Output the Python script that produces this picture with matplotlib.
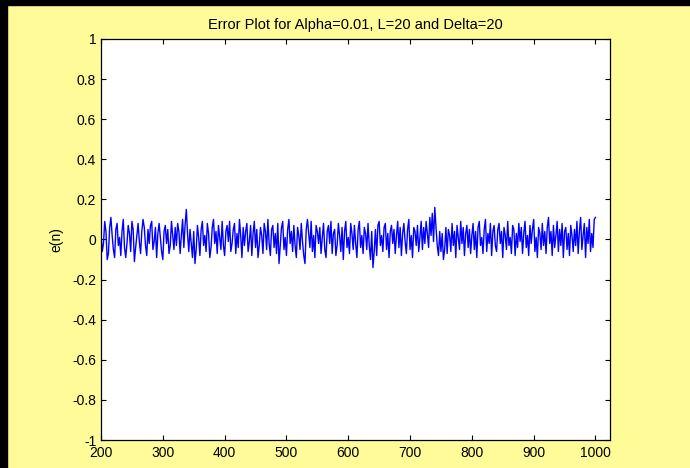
import numpy as np
import matplotlib.pyplot as plt
from matplotlib.patches import Rectangle

plt.rcParams['font.family'] = ['Liberation Sans', 'DejaVu Sans']

# sample index (every 2nd sample)
n = np.arange(200, 1001, 2)

# error signal e(n)
e = [
    0.03, -0.06, -0.02, 0.09, 0.04, -0.10, -0.07, 0.06, 0.11, 0.02, -0.05, -0.09, 0.05, 0.08, -0.03, 0.01, -0.08, 0.04, 0.10, -0.04,
    -0.09, -0.02, 0.07, 0.03, -0.06, 0.09, 0.05, -0.11, -0.04, 0.02, 0.08, -0.01, -0.07, 0.04, 0.10, 0.06, -0.03, -0.08, 0.05, -0.02,
    0.07, 0.09, -0.05, -0.01, 0.06, -0.09, 0.03, 0.08, 0.01, -0.06, -0.10, 0.04, 0.07, -0.02, 0.05, -0.07, -0.03, 0.09, 0.02, -0.05,
    0.06, -0.03, 0.08, 0.04, -0.07, 0.02, 0.10, -0.04, 0.07, 0.15, 0.03, -0.06, 0.05, -0.02, -0.09, 0.04, -0.12, -0.05, 0.07, 0.01,
    -0.08, 0.05, 0.09, -0.03, 0.02, -0.06, 0.08, 0.03, -0.09, -0.04, 0.06, 0.10, -0.02, 0.04, -0.07, 0.07, 0.01, -0.05, 0.09, -0.03,
    -0.08, 0.04, 0.07, -0.01, 0.09, -0.06, -0.02, 0.05, 0.08, -0.07, 0.03, -0.04, 0.10, 0.02, -0.09, 0.06, -0.03, 0.04, 0.08, -0.06,
    -0.01, 0.07, -0.08, 0.03, 0.09, -0.04, 0.05, -0.09, -0.03, 0.06, 0.02, -0.07, 0.08, 0.04, -0.05, 0.10, -0.02, -0.08, 0.05, 0.07,
    -0.04, 0.03, -0.07, 0.08, -0.12, -0.03, 0.06, 0.09, -0.05, 0.01, -0.08, 0.05, 0.10, -0.02, 0.04, -0.06, 0.07, -0.03, -0.09, 0.06,
    0.02, -0.05, 0.08, -0.01, -0.08, -0.12, 0.05, 0.10, 0.03, -0.04, 0.09, -0.06, 0.02, -0.09, 0.07, 0.04, -0.02, 0.06, -0.07, 0.01,
    0.08, -0.05, -0.09, 0.04, 0.07, -0.02, 0.09, -0.07, 0.03, 0.05, -0.08, -0.03, 0.08, 0.02, -0.06, 0.06, -0.10, 0.04, 0.09, -0.04,
    0.01, -0.07, 0.08, 0.03, -0.05, 0.07, -0.02, -0.09, 0.05, 0.09, -0.04, 0.02, -0.07, 0.06, 0.03, -0.05, 0.08, -0.03, -0.10, 0.04,
    -0.14, -0.06, 0.05, -0.08, 0.07, 0.09, -0.03, 0.02, -0.06, 0.06, 0.08, -0.05, 0.03, -0.09, 0.04, 0.07, -0.02, 0.05, -0.07, 0.02,
    0.09, -0.04, 0.06, -0.08, 0.03, 0.08, -0.01, -0.07, 0.05, 0.10, -0.05, 0.02, -0.09, 0.06, 0.04, -0.03, 0.07, -0.06, 0.01, 0.09,
    -0.05, 0.06, -0.02, 0.09, 0.03, -0.04, 0.11, 0.02, 0.13, -0.01, 0.16, 0.06, -0.03, -0.08, 0.04, -0.06, 0.03, -0.10, -0.05, 0.06,
    -0.07, 0.05, 0.02, -0.06, 0.08, -0.03, 0.04, -0.09, 0.07, 0.01, -0.05, 0.09, -0.02, 0.06, -0.08, 0.03, 0.07, -0.04, 0.05, -0.07,
    0.02, 0.08, -0.05, 0.04, -0.09, 0.06, 0.09, -0.03, 0.01, -0.07, 0.05, 0.10, -0.06, 0.03, -0.02, 0.08, -0.08, 0.04, 0.07, -0.03,
    -0.06, 0.05, 0.08, -0.02, 0.04, -0.09, 0.06, 0.02, -0.05, 0.09, -0.03, 0.01, -0.07, 0.07, 0.05, -0.08, 0.03, -0.04, 0.08, -0.01,
    0.06, -0.07, 0.03, 0.09, -0.04, 0.02, -0.08, 0.07, -0.02, 0.05, 0.10, -0.06, 0.01, -0.09, 0.06, 0.03, -0.05, 0.08, -0.03, 0.04,
    -0.07, 0.06, 0.11, -0.02, 0.04, -0.08, 0.07, -0.04, 0.02, 0.09, -0.06, 0.05, -0.03, 0.08, -0.09, 0.04, 0.06, -0.05, 0.03, -0.08,
    0.07, 0.02, -0.06, 0.05, -0.03, 0.09, -0.07, 0.04, 0.11, -0.05, 0.02, 0.08, -0.09, 0.06, -0.02, 0.10, -0.06, 0.03, -0.04, 0.10,
    0.11,
]

xticks = [200, 300, 400, 500, 600, 700, 800, 900, 1000]
yticks = [-1, -0.8, -0.6, -0.4, -0.2, 0, 0.2, 0.4, 0.6, 0.8, 1]
ylabels = ['-1', '-0.8', '-0.6', '-0.4', '-0.2', '0', '0.2', '0.4', '0.6', '0.8', '1']

fig = plt.figure(figsize=(6.9, 4.68), dpi=100, facecolor='#fffb99')
ax = fig.add_axes([0.1464, 0.0598, 0.7372, 0.857])

ax.plot(n, e, color='#0000ff', linewidth=1.0)

ax.set_xlim(200, 1023)
ax.set_ylim(-1, 1)
ax.set_xticks(xticks)
ax.set_yticks(yticks)
ax.set_yticklabels(ylabels)
ax.tick_params(direction='in', top=True, right=True, length=3.6, width=0.8,
               labelsize=10)
ax.tick_params(axis='y', pad=3.5)
ax.tick_params(axis='x', pad=4.5)
for s in ax.spines.values():
    s.set_linewidth(0.9)

ax.set_ylabel('e(n)', fontsize=10, labelpad=6)
ax.set_title('Error Plot for Alpha=0.01, L=20 and Delta=20', fontsize=10.5, pad=7)

# black frame strips at top and left edge
fig.patches.append(Rectangle((0, 1 - 5 / 468), 1, 5 / 468, transform=fig.transFigure,
                             color='black', zorder=10))
fig.patches.append(Rectangle((0, 0), 7 / 690, 1, transform=fig.transFigure,
                             color='black', zorder=10))

fig.savefig('out.png', dpi=100, facecolor=fig.get_facecolor())
